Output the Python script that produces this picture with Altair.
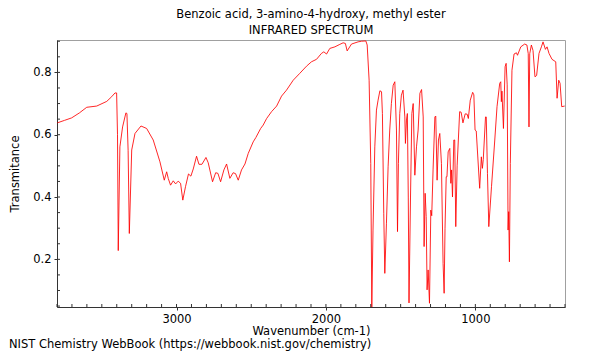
import altair as alt
import pandas as pd

wavenumber = [
    3798, 3750, 3702, 3650, 3601, 3534, 3467, 3434, 3412, 3401, 3395, 3390, 3379, 3361,
    3339, 3332, 3324, 3316, 3300, 3278, 3238, 3200, 3156, 3111, 3082, 3066, 3055, 3040,
    3022, 3006, 2989, 2973, 2958, 2940, 2920, 2904, 2888, 2866, 2850, 2830, 2803, 2788,
    2759, 2738, 2723, 2705, 2683, 2665, 2643, 2621, 2605, 2587, 2565, 2542, 2520, 2487,
    2469, 2437, 2420, 2397, 2364, 2330, 2297, 2264, 2219, 2175, 2130, 2097, 2063, 2030,
    2014, 1996, 1974, 1940, 1907, 1885, 1870, 1858, 1829, 1785, 1762, 1733, 1724, 1711,
    1700, 1693, 1685, 1673, 1662, 1651, 1639, 1628, 1622, 1613, 1606, 1595, 1584, 1573,
    1562, 1550, 1539, 1528, 1521, 1515, 1506, 1495, 1484, 1472, 1468, 1461, 1455, 1449,
    1444, 1434, 1425, 1416, 1405, 1394, 1383, 1371, 1360, 1349, 1343, 1336, 1329, 1323,
    1316, 1307, 1298, 1292, 1283, 1271, 1265, 1256, 1247, 1238, 1227, 1216, 1209, 1203,
    1195, 1190, 1182, 1171, 1164, 1159, 1153, 1144, 1138, 1131, 1122, 1105, 1095, 1083,
    1068, 1055, 1047, 1034, 1018, 1010, 1002, 994, 971, 960, 953, 947, 932, 927,
    919, 910, 892, 870, 855, 837, 830, 826, 822, 812, 801, 794, 787, 781,
    777, 772, 766, 755, 741, 725, 718, 696, 670, 655, 646, 641, 636, 625,
    614, 601, 590, 574, 558, 547, 531, 520, 507, 487, 462, 453, 442, 433,
    422, 402,
]
transmittance = [
    0.638, 0.646, 0.654, 0.670, 0.688, 0.692, 0.707, 0.722, 0.734, 0.734, 0.600, 0.228, 0.561, 0.625,
    0.670, 0.668, 0.550, 0.283, 0.551, 0.604, 0.628, 0.620, 0.583, 0.513, 0.454, 0.481, 0.459, 0.438,
    0.452, 0.442, 0.451, 0.444, 0.390, 0.433, 0.474, 0.467, 0.490, 0.531, 0.505, 0.505, 0.527, 0.510,
    0.449, 0.478, 0.476, 0.449, 0.487, 0.506, 0.460, 0.478, 0.475, 0.454, 0.487, 0.506, 0.540, 0.577,
    0.591, 0.620, 0.631, 0.652, 0.674, 0.692, 0.724, 0.743, 0.775, 0.797, 0.820, 0.834, 0.842, 0.861,
    0.866, 0.859, 0.877, 0.882, 0.890, 0.895, 0.893, 0.869, 0.891, 0.898, 0.900, 0.901, 0.888, 0.775,
    0.508, 0.047, 0.294, 0.561, 0.679, 0.711, 0.741, 0.738, 0.668, 0.348, 0.155, 0.316, 0.497, 0.615,
    0.700, 0.759, 0.770, 0.615, 0.289, 0.508, 0.668, 0.727, 0.743, 0.657, 0.572, 0.647, 0.668, 0.400,
    0.060, 0.400, 0.668, 0.700, 0.470, 0.561, 0.615, 0.733, 0.745, 0.657, 0.241, 0.412, 0.337, 0.102,
    0.166, 0.059, 0.358, 0.340, 0.487, 0.657, 0.660, 0.454, 0.583, 0.604, 0.508, 0.187, 0.091, 0.300,
    0.465, 0.465, 0.545, 0.556, 0.444, 0.487, 0.400, 0.583, 0.583, 0.305, 0.500, 0.674, 0.672, 0.638,
    0.667, 0.666, 0.652, 0.711, 0.736, 0.728, 0.615, 0.612, 0.428, 0.529, 0.492, 0.520, 0.657, 0.657,
    0.476, 0.305, 0.433, 0.583, 0.690, 0.765, 0.770, 0.706, 0.740, 0.620, 0.818, 0.829, 0.760, 0.294,
    0.353, 0.192, 0.508, 0.807, 0.859, 0.863, 0.855, 0.882, 0.891, 0.888, 0.860, 0.625, 0.860, 0.888,
    0.870, 0.786, 0.790, 0.861, 0.882, 0.898, 0.874, 0.882, 0.861, 0.842, 0.834, 0.717, 0.775, 0.765,
    0.690, 0.692,
]

x_major = [1000, 2000, 3000]
x_minor = [400, 500, 600, 700, 800, 900, 1000, 1100, 1200, 1300, 1400, 1500, 1600, 1700,
           1800, 1900, 2000, 2100, 2200, 2300, 2400, 2500, 2600, 2700, 2800, 2900, 3000,
           3100, 3200, 3300, 3400, 3500, 3600, 3700, 3800]
y_major = [0.2, 0.4, 0.6, 0.8]
y_minor = [0.05, 0.1, 0.15, 0.2, 0.25, 0.3, 0.35, 0.4, 0.45, 0.5, 0.55, 0.6, 0.65, 0.7,
           0.75, 0.8, 0.85, 0.9]

title_lines = ["Benzoic acid, 3-amino-4-hydroxy, methyl ester", "INFRARED SPECTRUM"]
footer = "NIST Chemistry WebBook (https://webbook.nist.gov/chemistry)"

X_DOMAIN = [3800, 400]
Y_DOMAIN = [0.047, 0.904]
FONT = "DejaVu Sans"
FS = 11.5

spec = pd.DataFrame({"wn": wavenumber, "t": transmittance})
xm = pd.DataFrame({"wn": x_minor})
ym = pd.DataFrame({"t": y_minor})

xscale = alt.Scale(domain=X_DOMAIN, nice=False, zero=False)
yscale = alt.Scale(domain=Y_DOMAIN, nice=False, zero=False)

x_axis = alt.Axis(values=x_major, format="d", title="Wavenumber (cm-1)",
                  tickSize=3, labelPadding=3, titlePadding=1, grid=False)
y_axis = alt.Axis(values=y_major, format=".1f", title="Transmitance",
                  tickSize=3, labelPadding=3, titlePadding=12, grid=False)

X = alt.X("wn:Q", scale=xscale, axis=x_axis)
Y = alt.Y("t:Q", scale=yscale, axis=y_axis)

line = alt.Chart(spec).mark_line(color="#ff0000", strokeWidth=0.85, clip=True).encode(x=X, y=Y)

xticks = alt.Chart(xm).mark_rule(color="#333", strokeWidth=1).encode(
    x=X,
    y=alt.value(267),
    y2=alt.value(264),
)

yticks = alt.Chart(ym).mark_rule(color="#333", strokeWidth=1).encode(
    y=Y,
    x=alt.value(0),
    x2=alt.value(3),
)

foot = alt.Chart(pd.DataFrame({"s": [footer]})).mark_text(
    align="left", baseline="middle", fontSize=FS, font=FONT, color="#000"
).encode(
    text="s:N",
    x=alt.value(-48),
    y=alt.value(305),
)

chart = alt.layer(line, xticks, yticks, foot).properties(
    width=508,
    height=267,
    title=alt.TitleParams(text=title_lines, fontSize=FS, fontWeight="normal", font=FONT,
                          anchor="middle", frame="group", offset=4, lineHeight=16,
                          color="#000"),
    autosize=alt.AutoSizeParams(type="none"),
    padding={"left": 49, "top": 32, "right": 27, "bottom": 45},
).configure_view(
    stroke="#a0a0a0", strokeWidth=1
).configure_axis(
    domainColor="#333", tickColor="#333", labelColor="#000", titleColor="#000",
    labelFont=FONT, titleFont=FONT, labelFontSize=FS, titleFontSize=FS,
    titleFontWeight="normal",
)

chart.save("out.html", embed_options={"renderer": "svg", "actions": False})
